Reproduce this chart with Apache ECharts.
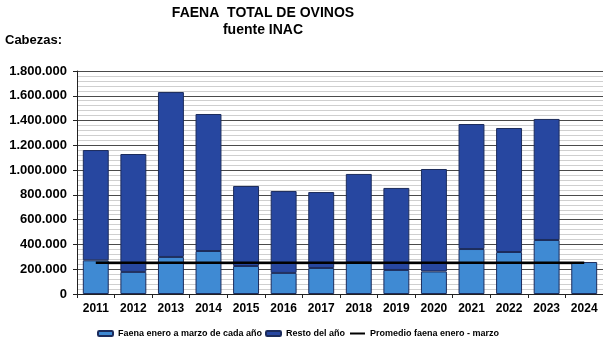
<!DOCTYPE html>
<html><head><meta charset="utf-8">
<style>html,body{margin:0;padding:0;background:#fff}#c{width:603px;height:358px}</style>
<script src="https://cdn.jsdelivr.net/npm/echarts@6/dist/echarts.min.js"></script>
</head><body><div id="c"></div>
<script>
const years = ['2011','2012','2013','2014','2015','2016','2017','2018','2019','2020','2021','2022','2023','2024'];
const eneroMarzo = [272000,178000,299000,347000,226000,170000,210000,255000,194000,182000,363000,339000,436000,258000];
const restoAnio = [890000,952000,1331000,1106000,646000,661000,613000,714000,662000,827000,1009000,1001000,977000,null];
const promedio = [253000,253000,253000,253000,253000,253000,253000,253000,253000,253000,253000,253000,253000,253000];
const yTicks = [0,200000,400000,600000,800000,1000000,1200000,1400000,1600000,1800000];

const LIGHT = '#3f8ad3';
const DARK = '#2747a0';
const EDGE = '#1c2c5c';
const fmt = v => String(v).replace(/\B(?=(\d{3})+(?!\d))/g, '.');
const chart = echarts.init(document.getElementById('c'));
const legendText = {fontFamily:'Liberation Sans', fontSize:9, fontWeight:'bold', color:'#000'};
chart.setOption({
  animation:false,
  title:[
    {text:'FAENA  TOTAL DE OVINOS\nfuente INAC', left:258, textAlign:'center', top:0,
     textStyle:{fontFamily:'Liberation Sans', fontSize:14, fontWeight:'bold', color:'#000', lineHeight:17}},
    {text:'Cabezas:', left:0, top:29, textStyle:{fontFamily:'Liberation Sans', fontSize:13, fontWeight:'bold', color:'#000'}}
  ],
  legend:[
    {data:['Faena enero a marzo de cada año'], left:97, top:329, itemWidth:15, itemHeight:5, itemGap:0, textStyle:legendText, padding:0},
    {data:['Resto del año'], left:265, top:329, itemWidth:15, itemHeight:5, textStyle:legendText, padding:0},
    {data:['Promedio faena enero - marzo'], left:350, top:329, itemWidth:15, itemHeight:2, textStyle:legendText, padding:0,
     icon:'rect'}
  ],
  grid:{left:77, right:0, top:71, bottom:64},
  xAxis:{type:'category', data:years,
    axisLine:{lineStyle:{color:'#222'}},
    axisTick:{show:true, length:4, lineStyle:{color:'#222'}},
    axisLabel:{fontFamily:'Liberation Sans', fontSize:12, fontWeight:'bold', color:'#000', margin:9}
  },
  yAxis:{type:'value', min:0, max:1800000, interval:200000,
    axisLine:{show:true, lineStyle:{color:'#222'}},
    axisTick:{show:true, length:4, lineStyle:{color:'#222'}},
    axisLabel:{fontFamily:'Liberation Sans', fontSize:13, fontWeight:'bold', color:'#000', margin:10,
      formatter:v => yTicks.includes(v) ? fmt(v) : ''},
    splitLine:{show:true, lineStyle:{color:'#4a4a4a', width:1}},
    minorTick:{show:false, splitNumber:5},
    minorSplitLine:{show:true, lineStyle:{color:'#cfcfcf', width:1}}
  },
  series:[
    {name:'Faena enero a marzo de cada año', type:'bar', stack:'t', data:eneroMarzo, barCategoryGap:'31%',
     itemStyle:{color:LIGHT, borderColor:EDGE, borderWidth:1}},
    {name:'Resto del año', type:'bar', stack:'t', data:restoAnio,
     itemStyle:{color:DARK, borderColor:EDGE, borderWidth:1}},
    {name:'Promedio faena enero - marzo', type:'line', data:promedio, symbol:'none', z:5,
     lineStyle:{color:'#000', width:2.5}, itemStyle:{color:'#000'}}
  ]
});
</script></body></html>
